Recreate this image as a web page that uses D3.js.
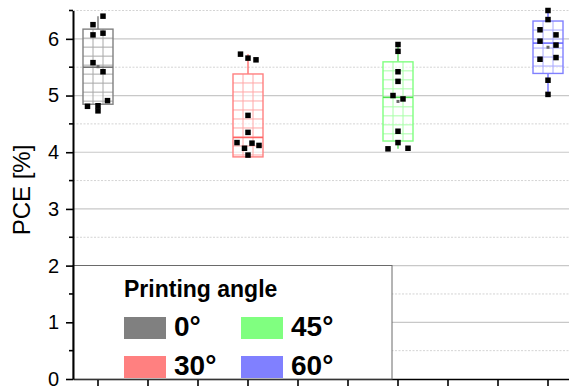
<!DOCTYPE html>
<html>
<head>
<meta charset="utf-8">
<script src="https://cdn.jsdelivr.net/npm/d3@7"></script>
<style>
    body { margin: 0; background: #fff; }
    svg { display: block; font-family: "Liberation Sans", Arial, sans-serif; }
</style>
</head>
<body>
<div id="chart"></div>
<script>
const SVG_WIDTH = 569;
const SVG_HEIGHT = 389;
const MARGIN = { TOP: 10.5, LEFT: 73, BOTTOM: 10 }   // x axis sits at y = 379

// data
const categories = ["0°", "30°", "45°", "60°"];
const slotIndex = [0, 3, 6, 9];          // slot (of 10) used by each group
const colors = ["#808080", "#ff8080", "#80ff80", "#8080ff"];
const lineColors = ["#6e6e6e", "#ff6464", "#55e055", "#6464ff"];
const hatchColors = ["#a8a8a8", "#ffa8a8", "#a8ffa8", "#a8a8ff"];

const pce0 = [6.40, 6.25, 6.07, 6.10, 5.58, 5.42, 4.81, 4.82, 4.73, 4.91];
const pce30 = [5.73, 5.66, 5.63, 4.65, 4.35, 4.17, 4.16, 4.12, 4.07, 3.95];
const pce45 = [5.90, 5.78, 5.42, 5.25, 5.00, 4.94, 4.37, 4.17, 4.06, 4.07];
const pce60 = [6.50, 6.34, 6.16, 6.07, 5.96, 5.89, 5.64, 5.67, 5.27, 5.02];

// horizontal spread of the dots, in slot widths
const jitter0 = [0.1, -0.1, -0.1, 0.1, -0.1, 0.1, -0.21, 0, 0, 0.19];
const jitter30 = [-0.15, 0, 0.16, 0, 0, -0.22, 0.08, 0.22, -0.07, 0];
const jitter45 = [0, 0, 0, 0, -0.1, 0.1, 0, 0, -0.2, 0.2];
const jitter60 = [0, 0, -0.16, 0.16, -0.16, 0.16, -0.16, 0.16, 0, 0];

const yTicks = [0, 1, 2, 3, 4, 5, 6];
const yMinorTicks = [0.5, 1.5, 2.5, 3.5, 4.5, 5.5, 6.5];

const groups = categories.map((c, i) => ({
    name: c,
    slot: slotIndex[i],
    values: [pce0, pce30, pce45, pce60][i],
    jitter: [jitter0, jitter30, jitter45, jitter60][i],
    color: colors[i],
    line: lineColors[i],
    hatch: hatchColors[i]
}));

const svg = d3.select("#chart").append("svg")
    .attr("width", SVG_WIDTH)
    .attr("height", SVG_HEIGHT);

const bottomY = SVG_HEIGHT - MARGIN.BOTTOM;

const xScale = d3.scaleBand()
    .domain(d3.range(10))
    .range([MARGIN.LEFT, MARGIN.LEFT + 500])
    .paddingInner(0)
    .paddingOuter(0);

const yScale = d3.scaleLinear()
    .domain([0, 6.5])
    .range([bottomY, MARGIN.TOP]);

const cx = slot => xScale(slot) + xScale.bandwidth() / 2;

// grid lines
svg.append("g").selectAll("line")
    .data(yTicks.filter(d => d > 0))
    .enter().append("line")
    .attr("x1", MARGIN.LEFT).attr("x2", SVG_WIDTH)
    .attr("y1", d => yScale(d)).attr("y2", d => yScale(d))
    .attr("stroke", "#c8c8c8")
    .attr("stroke-width", 1.2);

svg.append("g").selectAll("line")
    .data(yMinorTicks)
    .enter().append("line")
    .attr("x1", MARGIN.LEFT).attr("x2", SVG_WIDTH)
    .attr("y1", d => yScale(d)).attr("y2", d => yScale(d))
    .attr("stroke", "#d4d4d4")
    .attr("stroke-dasharray", "2,1.5");

// x axis, ticks only
const xAxis = svg.append("g")
    .attr("transform", `translate(0,${bottomY})`)
    .call(d3.axisBottom(xScale).tickFormat("").tickSize(7).tickSizeOuter(0));
xAxis.select(".domain").attr("stroke", "#000").attr("stroke-width", 1.6);
xAxis.selectAll(".tick line").attr("stroke", "#000").attr("stroke-width", 1.6);

// legend box (covers part of the axis)
const legend = svg.append("g");
legend.append("rect")
    .attr("x", MARGIN.LEFT).attr("y", 265.5)
    .attr("width", 319).attr("height", bottomY - 265.5)
    .attr("fill", "#fff")
    .attr("stroke", "#6a6a6a")
    .attr("stroke-width", 1);

legend.append("text")
    .attr("x", 124).attr("y", 297)
    .style("font-size", "23px").style("font-weight", "bold")
    .text("Printing angle");

const legX = [124, 241];
const legY = [317, 356];
groups.forEach((g, i) => {
    const col = Math.floor(i / 2), row = i % 2;
    legend.append("rect")
        .attr("x", legX[col]).attr("y", legY[row])
        .attr("width", 42).attr("height", 22)
        .attr("fill", g.color);
    legend.append("text")
        .attr("x", legX[col] + 50).attr("y", legY[row] + 18.5)
        .style("font-size", "28px").style("font-weight", "bold")
        .text(g.name);
});

// y axis
const yAxis = svg.append("g")
    .attr("transform", `translate(${MARGIN.LEFT},0)`)
    .call(d3.axisLeft(yScale).tickValues(yTicks).tickFormat(d3.format("d"))
        .tickSize(7).tickPadding(7).tickSizeOuter(0));
yAxis.select(".domain").attr("stroke", "#000").attr("stroke-width", 2);
yAxis.selectAll(".tick line").attr("stroke", "#000").attr("stroke-width", 1.6);
yAxis.selectAll(".tick text")
    .style("font-size", "20px")
    .style("font-family", "'Liberation Sans', Arial, sans-serif")
    .attr("fill", "#000");

svg.append("g").selectAll("line")
    .data(yMinorTicks)
    .enter().append("line")
    .attr("x1", MARGIN.LEFT - 4).attr("x2", MARGIN.LEFT)
    .attr("y1", d => yScale(d)).attr("y2", d => yScale(d))
    .attr("stroke", "#000").attr("stroke-width", 1.6);

svg.append("text")
    .attr("transform", `translate(30,${190}) rotate(-90)`)
    .attr("text-anchor", "middle")
    .style("font-size", "24px")
    .text("PCE [%]");

// boxes: mean ± SD, median line, whiskers to min / max
const boxW = xScale.bandwidth() * 0.6;
groups.forEach(g => {
    const mean = d3.mean(g.values);
    const sd = d3.deviation(g.values);
    const med = d3.median(g.values);
    const lo = d3.min(g.values), hi = d3.max(g.values);
    const x0 = cx(g.slot) - boxW / 2;
    const yTop = yScale(mean + sd), yBot = yScale(mean - sd);
    const gg = svg.append("g");

    // whiskers
    gg.append("line")
        .attr("x1", cx(g.slot)).attr("x2", cx(g.slot))
        .attr("y1", yTop).attr("y2", yScale(hi))
        .attr("stroke", g.line).attr("stroke-width", 1.3);
    gg.append("line")
        .attr("x1", cx(g.slot)).attr("x2", cx(g.slot))
        .attr("y1", yBot).attr("y2", yScale(lo))
        .attr("stroke", g.line).attr("stroke-width", 1.3);

    gg.append("rect")
        .attr("x", x0).attr("y", yTop)
        .attr("width", boxW).attr("height", yBot - yTop)
        .attr("fill", "#fff").attr("fill-opacity", 0.6);

    // crosshatch inside the box
    const hLines = d3.range(yTop + 9, yBot - 1, 9);
    gg.selectAll(".h").data(hLines).enter().append("line")
        .attr("x1", x0).attr("x2", x0 + boxW)
        .attr("y1", d => d).attr("y2", d => d)
        .attr("stroke", g.hatch).attr("stroke-width", 1);
    gg.selectAll(".v").data([1, 2]).enter().append("line")
        .attr("x1", d => x0 + boxW * d / 3).attr("x2", d => x0 + boxW * d / 3)
        .attr("y1", yTop).attr("y2", yBot)
        .attr("stroke", g.hatch).attr("stroke-width", 1);

    gg.append("rect")
        .attr("x", x0).attr("y", yTop)
        .attr("width", boxW).attr("height", yBot - yTop)
        .attr("fill", "none")
        .attr("stroke", g.color).attr("stroke-width", 1.4);

    gg.append("line")
        .attr("x1", x0).attr("x2", x0 + boxW)
        .attr("y1", yScale(med)).attr("y2", yScale(med))
        .attr("stroke", g.line).attr("stroke-width", 1.5);

    // mean marker
    gg.append("rect")
        .attr("x", cx(g.slot) - 1.5).attr("y", yScale(mean) - 1.5)
        .attr("width", 3).attr("height", 3)
        .attr("fill", "#666");

    // data points
    gg.selectAll(".pt").data(g.values).enter().append("rect")
        .attr("x", (d, i) => cx(g.slot) + g.jitter[i] * xScale.step() - 2.75)
        .attr("y", d => yScale(d) - 2.75)
        .attr("width", 5.5).attr("height", 5.5)
        .attr("fill", "#000");
});
</script>
</body>
</html>
